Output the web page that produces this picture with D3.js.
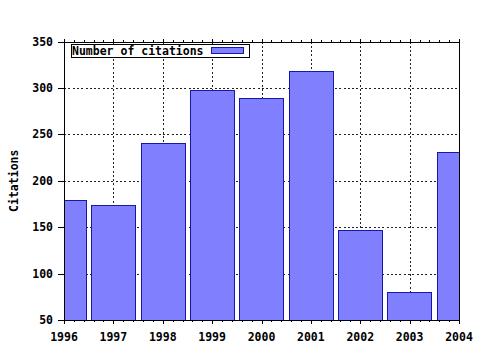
<!DOCTYPE html>
<html>
<head>
<meta charset="utf-8">
<script src="https://cdn.jsdelivr.net/npm/d3@7"></script>
<style>
  body { margin: 0; background: #fff; }
  text { font-family: "DejaVu Sans Mono", monospace; font-weight: bold; fill: #000; }
</style>
</head>
<body>
<div id="chart"></div>
<script>
// Citations per year
const years = [1996, 1997, 1998, 1999, 2000, 2001, 2002, 2003, 2004];
const citations = [179, 174, 241, 298, 289, 318, 147, 80, 231];
const yTicks = [50, 100, 150, 200, 250, 300, 350];
const seriesName = 'Number of citations';

const W = 480, H = 350;
const plotL = 64, plotR = 459, plotT = 41.5, plotB = 320;

const svg = d3.select('#chart').append('svg')
  .attr('width', W)
  .attr('height', H);

const x = d3.scaleLinear().domain([1996, 2004]).range([plotL, plotR]);
const y = d3.scaleLinear().domain([50, 350]).range([plotB, plotT]);

// clip for bars
svg.append('clipPath').attr('id', 'plot-clip')
  .append('rect')
  .attr('x', plotL).attr('y', plotT)
  .attr('width', plotR - plotL).attr('height', plotB - plotT);

// grid lines
const grid = svg.append('g')
  .attr('stroke', '#222')
  .attr('stroke-width', 1)
  .attr('stroke-dasharray', '2,2.3')
  .attr('shape-rendering', 'crispEdges');

grid.selectAll('.gx')
  .data(years.slice(1, -1))
  .enter().append('line')
  .attr('x1', d => Math.round(x(d)) + 0.5)
  .attr('x2', d => Math.round(x(d)) + 0.5)
  .attr('y1', plotT)
  .attr('y2', plotB);

grid.selectAll('.gy')
  .data(yTicks.slice(1, -1))
  .enter().append('line')
  .attr('x1', plotL)
  .attr('x2', plotR)
  .attr('y1', d => Math.round(y(d)) + 0.5)
  .attr('y2', d => Math.round(y(d)) + 0.5);

// bars
const barW = 0.9 * (x(1997) - x(1996));
svg.append('g')
  .attr('clip-path', 'url(#plot-clip)')
  .selectAll('rect')
  .data(years.map((yr, i) => ({ yr, v: citations[i] })))
  .enter().append('rect')
  .attr('x', d => Math.round(x(d.yr) - barW / 2) + 0.5)
  .attr('y', d => Math.round(y(d.v)) + 0.5)
  .attr('width', Math.round(barW))
  .attr('height', d => Math.round(plotB - y(d.v)))
  .attr('fill', '#8080ff')
  .attr('stroke', '#1818a8')
  .attr('stroke-width', 1)
  .attr('shape-rendering', 'crispEdges');

// frame
svg.append('rect')
  .attr('x', plotL + 0.5)
  .attr('y', Math.round(plotT) + 0.5)
  .attr('width', plotR - plotL)
  .attr('height', plotB - Math.round(plotT))
  .attr('fill', 'none')
  .attr('stroke', '#000')
  .attr('stroke-width', 1)
  .attr('shape-rendering', 'crispEdges');

// ticks
const ticks = svg.append('g')
  .attr('stroke', '#000')
  .attr('stroke-width', 1)
  .attr('shape-rendering', 'crispEdges');

const minorX = d3.range(1996, 2004.001, 0.2).filter(v => Math.abs(v - Math.round(v)) > 0.01);

years.forEach(yr => {
  const px = Math.round(x(yr)) + 0.5;
  ticks.append('line').attr('x1', px).attr('x2', px).attr('y1', plotB).attr('y2', plotB + 4);
  ticks.append('line').attr('x1', px).attr('x2', px).attr('y1', Math.round(plotT) + 1).attr('y2', Math.round(plotT) - 3);
});
minorX.forEach(v => {
  const px = Math.round(x(v)) + 0.5;
  ticks.append('line').attr('x1', px).attr('x2', px).attr('y1', plotB).attr('y2', plotB + 2);
  ticks.append('line').attr('x1', px).attr('x2', px).attr('y1', Math.round(plotT) + 1).attr('y2', Math.round(plotT) - 2);
});
yTicks.forEach(v => {
  const py = Math.round(y(v)) + 0.5;
  ticks.append('line').attr('x1', plotL - 6).attr('x2', plotL).attr('y1', py).attr('y2', py);
});

// tick labels
svg.selectAll('.xl')
  .data(years)
  .enter().append('text')
  .attr('x', d => x(d))
  .attr('y', 341)
  .attr('text-anchor', 'middle')
  .style('font-size', '11.5px')
  .text(d => d);

svg.selectAll('.yl')
  .data(yTicks)
  .enter().append('text')
  .attr('x', 53)
  .attr('y', d => y(d) + 4)
  .attr('text-anchor', 'end')
  .style('font-size', '11.5px')
  .text(d => d);

// axis title
svg.append('text')
  .attr('transform', `translate(18, ${(plotT + plotB) / 2}) rotate(-90)`)
  .attr('text-anchor', 'middle')
  .style('font-size', '11.5px')
  .text('Citations');

// legend
const lg = svg.append('g');
lg.append('rect')
  .attr('x', 71.5).attr('y', 44.5)
  .attr('width', 178).attr('height', 13)
  .attr('fill', '#fff')
  .attr('stroke', '#000')
  .attr('shape-rendering', 'crispEdges');
lg.append('text')
  .attr('x', 72)
  .attr('y', 55)
  .style('font-size', '11.5px')
  .text(seriesName);
lg.append('rect')
  .attr('x', 211.5).attr('y', 47.5)
  .attr('width', 32).attr('height', 6)
  .attr('fill', '#8080ff')
  .attr('stroke', '#1818a8')
  .attr('shape-rendering', 'crispEdges');
</script>
</body>
</html>
